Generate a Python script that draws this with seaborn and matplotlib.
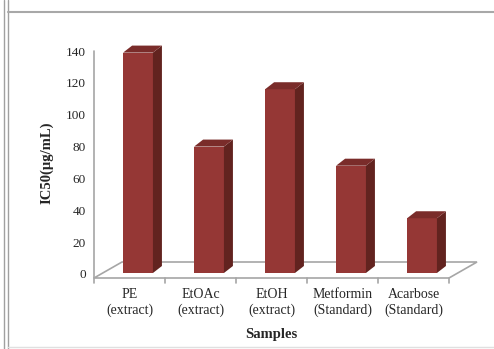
import matplotlib
matplotlib.use("Agg")
import matplotlib.pyplot as plt
from matplotlib.patches import Polygon
from matplotlib.lines import Line2D
import seaborn as sns
import pandas as pd

samples = ["PE\n(extract)", "EtOAc\n(extract)", "EtOH\n(extract)", "Metformin\n(Standard)", "Acarbose\n(Standard)"]
ic50 = [139, 80, 116, 68, 35]
yticks = [0, 20, 40, 60, 80, 100, 120, 140]

sns.set_theme(style="white")
plt.rcParams['font.family'] = ['Liberation Serif', 'DejaVu Serif']

W, H = 494, 349
fig = plt.figure(figsize=(W / 100, H / 100), dpi=100)
ax = fig.add_axes([94 / W, 75 / H, 355 / W, 223 / H])

df = pd.DataFrame({"Samples": samples, "IC50": ic50})
front = "#953735"
side = "#62231f"
top = "#7a2c2a"
sns.barplot(data=df, x="Samples", y="IC50", color=front, saturation=1,
            width=0.42, ax=ax, edgecolor="none")

ax.set_xlim(-0.5, 4.5)
ax.set_ylim(0, 140)
for s in ax.spines.values():
    s.set_visible(False)

px_x = 5 / 355.0   # data units per pixel in x
px_y = 140 / 223.0  # data units per pixel in y

# floor
y_front = -4 * px_y
ddx, ddy = 28 * px_x, 16 * px_y
floor = Polygon([(-0.5, y_front), (4.5, y_front), (4.5 + ddx, y_front + ddy),
                 (-0.5 + ddx, y_front + ddy)], closed=True, facecolor="none",
                edgecolor="#a6a6a6", lw=1.2, clip_on=False, zorder=1)
ax.add_patch(floor)
for b in range(6):
    xb = -0.5 + b
    ax.add_line(Line2D([xb, xb], [y_front, y_front - 5 * px_y], color="#a6a6a6",
                       lw=1.2, clip_on=False))
# y axis line
ax.add_line(Line2D([-0.5, -0.5], [y_front, 140], color="#a6a6a6", lw=1.2, clip_on=False))

# 3D faces of bars
bdx, bdy = 9 * px_x, 7 * px_y
for p in ax.patches[:]:
    if p is floor:
        continue
    p.set_x(p.get_x() + 0.12)
    p.set_y(p.get_y() + 1 * px_y)
    p.set_height(p.get_height() - 1 * px_y)
    p.set_zorder(3)
    x0, y0 = p.get_x(), p.get_y()
    w, h = p.get_width(), p.get_height()
    ax.add_patch(Polygon([(x0 + w, y0), (x0 + w + bdx, y0 + bdy), (x0 + w + bdx, y0 + h + bdy),
                          (x0 + w, y0 + h)], closed=True, facecolor=side, edgecolor="none",
                         zorder=3, clip_on=False))
    ax.add_patch(Polygon([(x0, y0 + h), (x0 + w, y0 + h), (x0 + w + bdx, y0 + h + bdy),
                          (x0 + bdx, y0 + h + bdy)], closed=True, facecolor=top, edgecolor="none",
                         zorder=3, clip_on=False))

ax.set_yticks(yticks)
ax.set_yticklabels([str(v) for v in yticks], fontsize=9.5)
ax.tick_params(axis="y", length=0, pad=6)
ax.tick_params(axis="x", length=0, pad=10)
ax.set_xticks(range(len(samples)))
ax.set_xticklabels(samples, fontsize=10, linespacing=1.25)
ax.set_xlabel("Samples", fontsize=10.5, fontweight="bold", labelpad=8)
ax.set_ylabel("IC50(\u00b5g/mL)", fontsize=10.5, fontweight="bold", labelpad=9)

# outer frame
fig.add_artist(Line2D([4 / W, 4 / W], [0, 1], transform=fig.transFigure, color="#a0a0a0", lw=1))
fig.add_artist(Line2D([8 / W, 8 / W], [0, 1], transform=fig.transFigure, color="#a0a0a0", lw=1))
fig.add_artist(Line2D([8 / W, 1], [1 - 12 / H, 1 - 12 / H], transform=fig.transFigure, color="#a8a8a8", lw=1.5))
fig.add_artist(Line2D([8 / W, 1], [1 - 347 / H, 1 - 347 / H], transform=fig.transFigure, color="#e0e0e0", lw=1))

fig.savefig("out.png", dpi=100)
